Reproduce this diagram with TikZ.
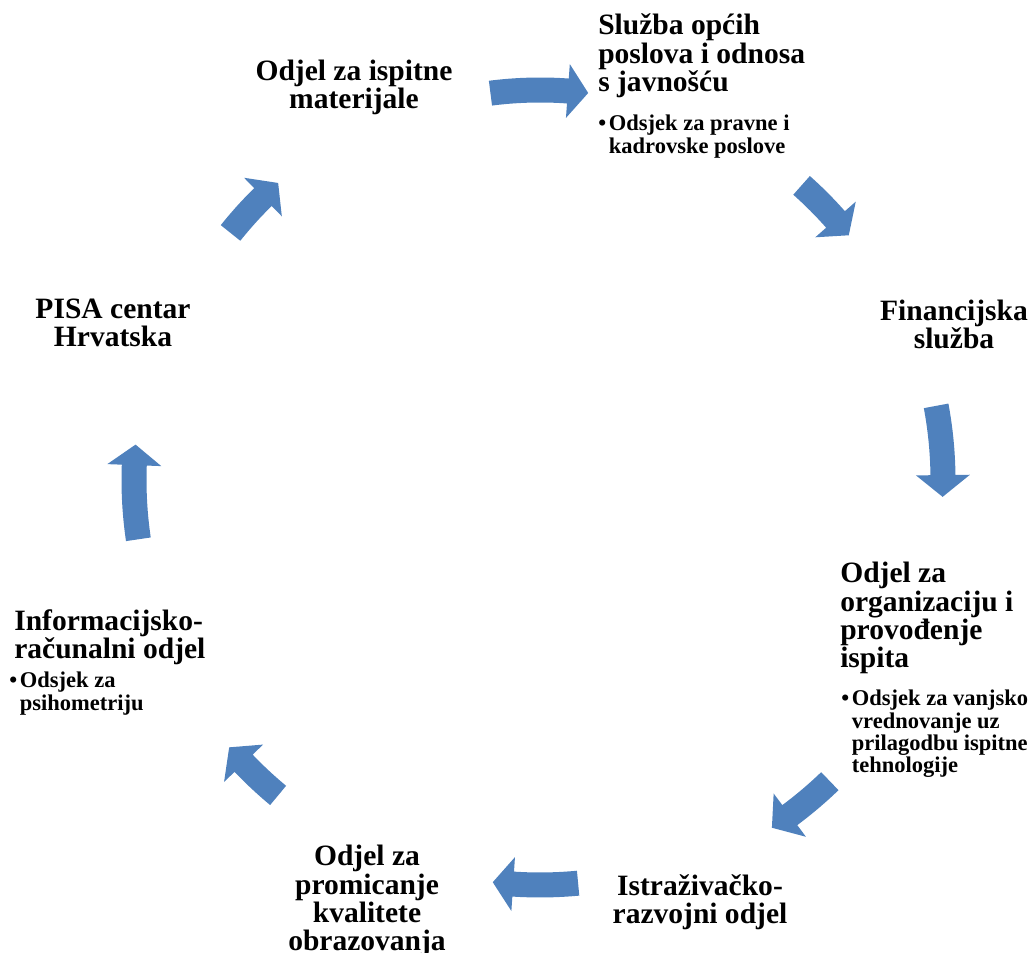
\documentclass[tikz,border=0pt]{standalone}
\usepackage{fontspec}
\setmainfont{Liberation Serif}
\usepackage{tikz}
\usepackage{xcolor}
\definecolor{arr}{HTML}{4F81BD}

\newcommand{\cyclearrow}[4]{%
  \pgfmathsetmacro{\arrRo}{#4+12.5}\pgfmathsetmacro{\arrRi}{#4-12.5}%
  \pgfmathsetmacro{\arrHo}{#4+27}\pgfmathsetmacro{\arrHi}{#4-27}%
  \fill[arr] ([shift={(#1:\arrRo)}]C) arc[start angle=#1,end angle=#2,radius=\arrRo]
    -- ([shift={(#2:\arrHo)}]C) -- ([shift={(#3:#4)}]C) -- ([shift={(#2:\arrHi)}]C)
    -- ([shift={(#2:\arrRi)}]C) arc[start angle=#2,end angle=#1,radius=\arrRi] -- cycle;}

\begin{document}
\begin{tikzpicture}[x=0.025cm,y=0.025cm,
    head/.style={font=\fontsize{21}{20.1}\selectfont\bfseries,inner sep=0pt},
    sub/.style={font=\fontsize{16}{15.3}\selectfont\bfseries,inner sep=0pt}]
  \useasboundingbox (0,0) rectangle (1035,953);
  \coordinate (C) at (540,473);
  \node[head,align=center,anchor=base] (ispit) at (354,844.7) {Odjel za ispitne\\materijale};
  \node[head,align=left,anchor=base west] (opci) at (598,861.5) {Služba općih\\poslova i odnosa\\s javnošću};
  \node[sub,anchor=base west] (opcisub) at (598,822) {\begin{tabular}[t]{@{}l@{\hspace{2pt}}l@{}}\textbullet & Odsjek za pravne i\\ & kadrovske poslove\end{tabular}};
  \node[head,align=center,anchor=base] (fin) at (954,604.7) {Financijska\\služba};
  \node[head,align=left,anchor=base west] (org) at (840,285.2) {Odjel za\\organizaciju i\\provođenje\\ispita};
  \node[sub,anchor=base west] (orgsub) at (841,247) {\begin{tabular}[t]{@{}l@{\hspace{2pt}}l@{}}\textbullet & Odsjek za vanjsko\\ & vrednovanje uz\\ & prilagodbu ispitne\\ & tehnologije\end{tabular}};
  \node[head,align=center,anchor=base] (istr) at (700,29.7) {Istraživačko-\\razvojni odjel};
  \node[head,align=center,anchor=base] (kval) at (367,2.2) {Odjel za\\promicanje\\kvalitete\\obrazovanja};
  \node[head,align=left,anchor=base west] (info) at (14,294.7) {Informacijsko-\\računalni odjel};
  \node[sub,anchor=base west] (infosub) at (9,265) {\begin{tabular}[t]{@{}l@{\hspace{2pt}}l@{}}\textbullet & Odsjek za\\ & psihometriju\end{tabular}};
  \node[head,align=center,anchor=base] (pisa) at (113,606.7) {PISA centar\\Hrvatska};
  \cyclearrow{97.3}{85.9}{82.9}{390}
  \cyclearrow{48.4}{41.4}{38.4}{394}
  \cyclearrow{10.6}{0.7}{-2.4}{403}
  \cyclearrow{-46.1}{-53.3}{-56.3}{418}
  \cyclearrow{-84.6}{-93.8}{-96.7}{405}
  \cyclearrow{230.3}{223.7}{220.7}{410}
  \cyclearrow{188.4}{177.9}{175}{406}
  \cyclearrow{141.4}{134.4}{131.4}{396}
\end{tikzpicture}
\end{document}
